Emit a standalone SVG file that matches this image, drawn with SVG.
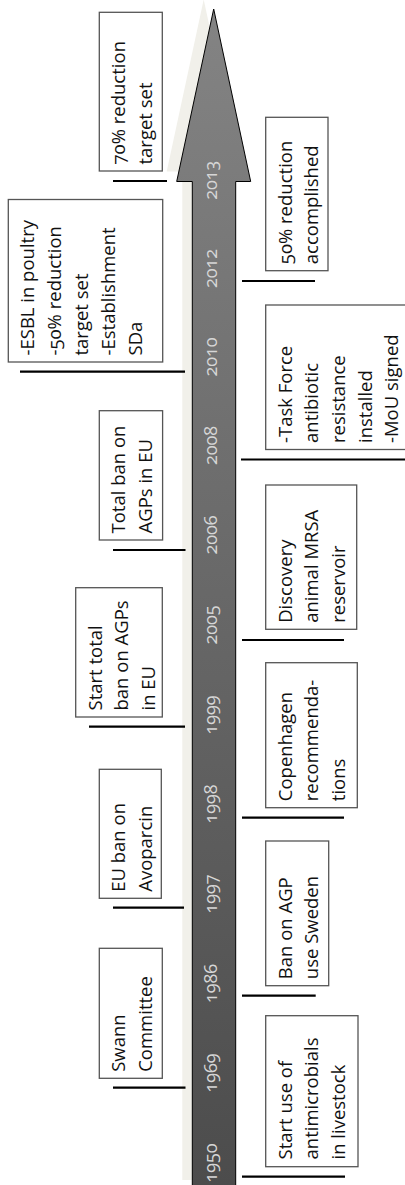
<svg xmlns="http://www.w3.org/2000/svg" width="405" height="1185" viewBox="0 0 405 1185">
<style>
text{font-family:"Open Sans","Noto Sans","Liberation Sans",sans-serif;font-variant-numeric:oldstyle-nums;}
.t{font-size:18.5px;fill:#111;}
.yr{font-size:18px;fill:#d6d6d6;text-anchor:middle;}
.box{fill:#fff;stroke:#555;stroke-width:1.3;}
.conn line{stroke:#000;stroke-width:2.2;}
</style>
<defs>
<linearGradient id="ag" x1="0" y1="0" x2="0" y2="1185" gradientUnits="userSpaceOnUse">
<stop offset="0" stop-color="#848484"/>
<stop offset="1" stop-color="#4c4c4c"/>
</linearGradient>
</defs>
<rect width="405" height="1185" fill="#fff"/>
<g id="arrow">
<polygon points="203.7,-0.5 240.7,171.5 225.7,171.5 225.7,1180 182.3,1180 182.3,171.5 166.7,171.5" fill="#f1f0ea"/>
<polygon points="213.7,9 250.7,181.5 235.7,181.5 235.7,1190 192.3,1190 192.3,181.5 176.7,181.5" fill="url(#ag)" stroke="#000" stroke-width="1"/>
</g>
<g id="years">
<text class="yr" transform="translate(216.5,180.2) rotate(-90)">2013</text>
<text class="yr" transform="translate(216.5,268.5) rotate(-90)">2012</text>
<text class="yr" transform="translate(216.5,357) rotate(-90)">2010</text>
<text class="yr" transform="translate(216.5,445.5) rotate(-90)">2008</text>
<text class="yr" transform="translate(216.5,535) rotate(-90)">2006</text>
<text class="yr" transform="translate(216.5,625) rotate(-90)">2005</text>
<text class="yr" transform="translate(216.5,715) rotate(-90)">1999</text>
<text class="yr" transform="translate(216.5,804) rotate(-90)">1998</text>
<text class="yr" transform="translate(216.5,894) rotate(-90)">1997</text>
<text class="yr" transform="translate(216.5,983.5) rotate(-90)">1986</text>
<text class="yr" transform="translate(216.5,1073) rotate(-90)">1969</text>
<text class="yr" transform="translate(216.5,1163) rotate(-90)">1950</text>
</g>
<g class="conn" id="connectors">
<line x1="113" y1="181" x2="167" y2="181"/>
<line x1="20" y1="371.7" x2="185" y2="371.7"/>
<line x1="113" y1="550" x2="185.5" y2="550"/>
<line x1="89" y1="726.7" x2="185" y2="726.7"/>
<line x1="113" y1="907.7" x2="184" y2="907.7"/>
<line x1="113" y1="1087.7" x2="185.5" y2="1087.7"/>
<line x1="242" y1="281" x2="315" y2="281"/>
<line x1="241" y1="459.5" x2="405" y2="459.5"/>
<line x1="242" y1="640" x2="344" y2="640"/>
<line x1="242" y1="817.7" x2="344" y2="817.7"/>
<line x1="242" y1="995.7" x2="315.7" y2="995.7"/>
<line x1="242" y1="1176.7" x2="345" y2="1176.7"/>
</g>
<g id="n2013">
<rect class="box" x="99.3" y="12.3" width="63" height="158.7"/>
<text class="t" transform="translate(125.3,164.5) rotate(-90)"><tspan x="0" y="0">70% reduction</tspan><tspan x="0" y="26.7">target set</tspan></text>
</g>
<g id="n2010">
<rect class="box" x="8.3" y="199.5" width="154.4" height="162.5"/>
<text class="t" transform="translate(34.3,355.5) rotate(-90)"><tspan x="0" y="0">-ESBL in poultry</tspan><tspan x="0" y="26.9">-50% reduction</tspan><tspan x="0" y="53.8">target set</tspan><tspan x="0" y="80.7">-Establishment</tspan><tspan x="0" y="107.6">SDa</tspan></text>
</g>
<g id="n2006">
<rect class="box" x="99.3" y="410.7" width="63.3" height="129.3"/>
<text class="t" transform="translate(125.3,533.5) rotate(-90)"><tspan x="0" y="0">Total ban on</tspan><tspan x="0" y="26.7">AGPs in EU</tspan></text>
</g>
<g id="n1999">
<rect class="box" x="75.7" y="587.7" width="86.6" height="129.3"/>
<text class="t" transform="translate(101.7,710.5) rotate(-90)"><tspan x="0" y="0">Start total</tspan><tspan x="0" y="26.7">ban on AGPs</tspan><tspan x="0" y="53.4">in EU</tspan></text>
</g>
<g id="n1997">
<rect class="box" x="99.3" y="769.3" width="62" height="129"/>
<text class="t" transform="translate(125.3,891.8) rotate(-90)"><tspan x="0" y="0">EU ban on</tspan><tspan x="0" y="26.7">Avoparcin</tspan></text>
</g>
<g id="n1969">
<rect class="box" x="99.3" y="948.3" width="63" height="130"/>
<text class="t" transform="translate(125.3,1071.8) rotate(-90)"><tspan x="0" y="0">Swann</tspan><tspan x="0" y="26.7">Committee</tspan></text>
</g>
<g id="n2012">
<rect class="box" x="265.7" y="117.3" width="62.3" height="153.4"/>
<text class="t" transform="translate(291.7,264.2) rotate(-90)"><tspan x="0" y="0">50% reduction</tspan><tspan x="0" y="26.7">accomplished</tspan></text>
</g>
<g id="n2008">
<rect class="box" x="265.7" y="305" width="145" height="144.5"/>
<text class="t" transform="translate(291.7,443) rotate(-90)"><tspan x="0" y="0">-Task Force</tspan><tspan x="0" y="26.7">antibiotic</tspan><tspan x="0" y="53.4">resistance</tspan><tspan x="0" y="80.1">installed</tspan><tspan x="0" y="106.8">-MoU signed</tspan></text>
</g>
<g id="n2005">
<rect class="box" x="265.7" y="485" width="91" height="144.3"/>
<text class="t" transform="translate(291.7,622.8) rotate(-90)"><tspan x="0" y="0">Discovery</tspan><tspan x="0" y="26.7">animal MRSA</tspan><tspan x="0" y="53.4">reservoir</tspan></text>
</g>
<g id="n1998">
<rect class="box" x="265.7" y="662.7" width="91.6" height="145"/>
<text class="t" transform="translate(291.7,801.2) rotate(-90)"><tspan x="0" y="0">Copenhagen</tspan><tspan x="0" y="26.7">recommenda-</tspan><tspan x="0" y="53.4">tions</tspan></text>
</g>
<g id="n1986">
<rect class="box" x="265.7" y="841" width="63" height="144.7"/>
<text class="t" transform="translate(291.7,979.2) rotate(-90)"><tspan x="0" y="0">Ban on AGP</tspan><tspan x="0" y="26.7">use Sweden</tspan></text>
</g>
<g id="n1950">
<rect class="box" x="265.7" y="1015.7" width="92.3" height="151"/>
<text class="t" transform="translate(291.7,1159.5) rotate(-90)"><tspan x="0" y="0">Start use of</tspan><tspan x="0" y="26.7">antimicrobials</tspan><tspan x="0" y="53.4">in livestock</tspan></text>
</g>
</svg>
